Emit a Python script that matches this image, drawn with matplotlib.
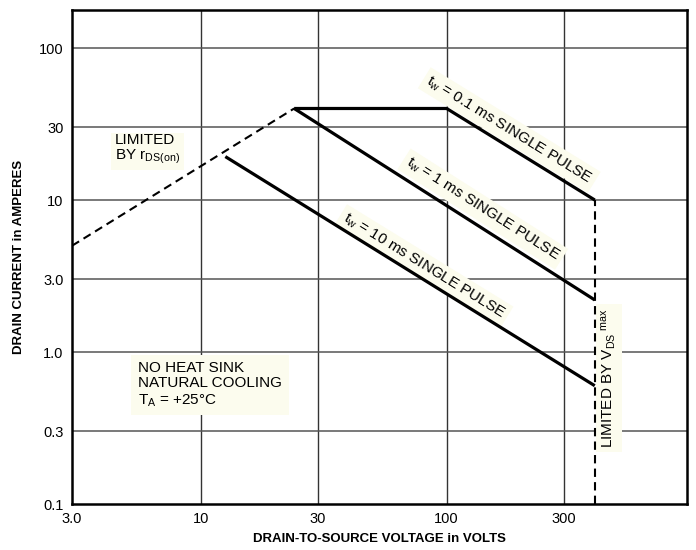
import matplotlib
matplotlib.use("Agg")
import matplotlib.pyplot as plt

plt.rcParams['font.family'] = ['Liberation Sans', 'DejaVu Sans']
plt.rcParams['mathtext.fontset'] = 'custom'
plt.rcParams['mathtext.rm'] = 'Liberation Sans'
plt.rcParams['mathtext.it'] = 'Liberation Sans'

# safe operating area curves (volts, amperes)
rds_v = [3.0, 24]
rds_i = [5.0, 40]
pulse01_v = [24, 100, 400]
pulse01_i = [40, 40, 10]
pulse1_v = [24, 400]
pulse1_i = [40, 2.2]
pulse10_v = [12.6, 400]
pulse10_i = [19.3, 0.6]
vds_max = 400
vds_i = [0.1, 10]

x_ticks = [3.0, 10, 30, 100, 300]
x_labels = ["3.0", "10", "30", "100", "300"]
y_ticks = [0.1, 0.3, 1.0, 3.0, 10, 30, 100]
y_labels = ["0.1", "0.3", "1.0", "3.0", "10", "30", "100"]

fig = plt.figure(figsize=(6.96, 5.50), dpi=100)
ax = fig.add_axes([72/696, 1 - 504/550, 615/696, 494/550])
ax.set_xscale('log')
ax.set_yscale('log')
ax.set_xlim(3.0, 10**2.977)
ax.set_ylim(0.1, 10**2.25)

for v in x_ticks[1:]:
    ax.axvline(v, color='#333333', lw=1, zorder=1)
for i in y_ticks[1:]:
    ax.axhline(i, color='#555555', lw=1.1, zorder=1)

ax.plot(rds_v, rds_i, color='black', lw=1.5, ls=(0, (4, 2.5)), zorder=3)
ax.plot(pulse01_v, pulse01_i, color='black', lw=2.3, zorder=3, solid_capstyle='butt')
ax.plot(pulse1_v, pulse1_i, color='black', lw=2.3, zorder=3, solid_capstyle='butt')
ax.plot(pulse10_v, pulse10_i, color='black', lw=2.3, zorder=3, solid_capstyle='butt')
ax.plot([vds_max, vds_max], vds_i, color='black', lw=1.5, ls=(0, (4, 2.5)), zorder=3)

ax.set_xticks(x_ticks)
ax.set_xticklabels(x_labels)
ax.set_yticks(y_ticks)
ax.set_yticklabels(y_labels)
ax.minorticks_off()
ax.tick_params(length=0, labelsize=10.5, pad=6)
for s in ax.spines.values():
    s.set_linewidth(1.8)

ax.set_xlabel("DRAIN-TO-SOURCE VOLTAGE in VOLTS", fontsize=9.5, fontweight='bold', labelpad=5)
ax.set_ylabel("DRAIN CURRENT in AMPERES", fontsize=9.5, fontweight='bold', labelpad=10)

box = dict(facecolor='#fcfcee', edgecolor='none', pad=3)
ax.text(0.070, 0.750, "LIMITED\nBY r$_{\\mathregular{DS(on)}}$", transform=ax.transAxes,
        ha='left', va='top', fontsize=11, bbox=box, zorder=2, linespacing=1.0)
ax.text(0.107, 0.290, "NO HEAT SINK\nNATURAL COOLING\nT$_{\\mathregular{A}}$ = +25\u00b0C",
        transform=ax.transAxes, ha='left', va='top', fontsize=11,
        bbox=dict(facecolor='#fcfcee', edgecolor='none', pad=5), zorder=2,
        linespacing=1.15)
ax.text(0.873, 0.255, "LIMITED BY V$_{\\mathregular{DS}}$$^{\\mathregular{\\ max}}$",
        transform=ax.transAxes, ha='center', va='center', rotation=90, fontsize=11,
        bbox=box, zorder=2)

ax.text(0.711, 0.757, "t$_{\\mathregular{w}}$ = 0.1 ms SINGLE PULSE", transform=ax.transAxes,
        ha='center', va='center', rotation=-31.6, rotation_mode='anchor', fontsize=11,
        bbox=box, zorder=2)
ax.text(0.668, 0.597, "t$_{\\mathregular{w}}$ = 1 ms SINGLE PULSE", transform=ax.transAxes,
        ha='center', va='center', rotation=-32.5, rotation_mode='anchor', fontsize=11,
        bbox=box, zorder=2)
ax.text(0.572, 0.482, "t$_{\\mathregular{w}}$ = 10 ms SINGLE PULSE", transform=ax.transAxes,
        ha='center', va='center', rotation=-31.6, rotation_mode='anchor', fontsize=11,
        bbox=box, zorder=2)

fig.savefig("out.png", dpi=100)
